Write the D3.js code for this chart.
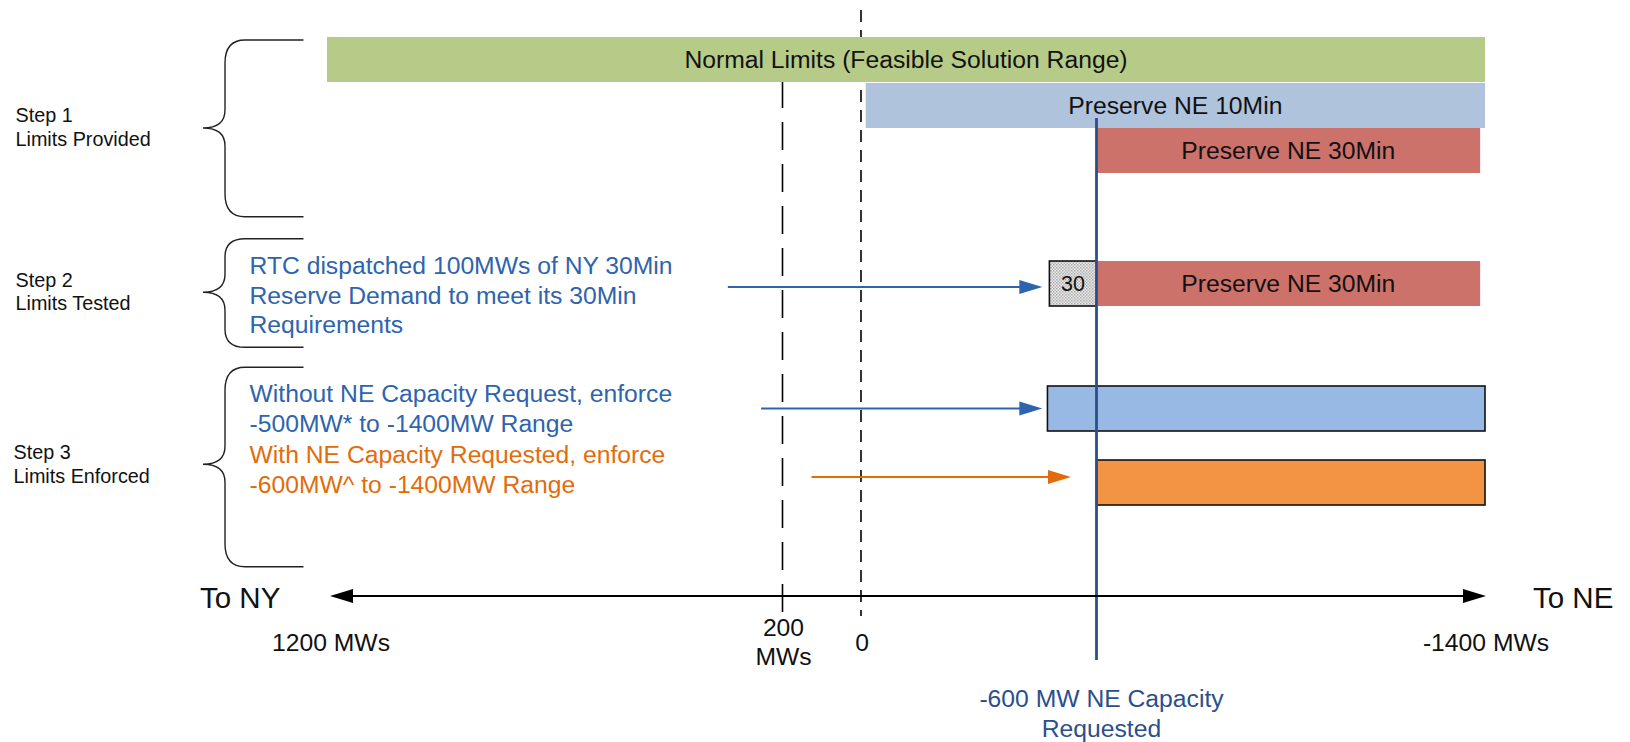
<!DOCTYPE html>
<html>
<head>
<meta charset="utf-8">
<script src="https://cdn.jsdelivr.net/npm/d3@7"></script>
<style>
  body { margin: 0; background: #fff; }
  svg { display: block; font-family: "Liberation Sans", Arial, sans-serif; }
</style>
</head>
<body>
<svg id="chart" width="1630" height="742"></svg>
<script>
// limits diagram: bars are MW ranges on the interface (NY positive, NE negative)

var barNames = ["normal", "ne10", "ne30", "box30", "ne30b", "enf500", "enf600"];
var barRows  = ["s1a", "s1b", "s1c", "s2", "s2", "s3a", "s3b"];
var barFrom  = [1200, -12, -600, -480, -600, -475, -600];
var barTo    = [-1400, -1400, -1390, -600, -1390, -1400, -1400];
var barText  = ["Normal Limits (Feasible Solution Range)", "Preserve NE 10Min", "Preserve NE 30Min", "30", "Preserve NE 30Min", "", ""];

var tickValues = [1200, 200, 0, -1400];
var tickLabels = [["1200 MWs"], ["200", "MWs"], ["0"], ["-1400 MWs"]];

var arrowRows = ["s2", "s3a", "s3b"];
var arrowFrom = [320, 247, 126];
var arrowTo   = [-462, -462, -535];

var stepTitles = [["Step 1", "Limits Provided"], ["Step 2", "Limits Tested"], ["Step 3", "Limits Enforced"]];
var noteLines = ["RTC dispatched 100MWs of NY 30Min", "Reserve Demand to meet its 30Min", "Requirements",
                 "Without NE Capacity Request, enforce", "-500MW* to -1400MW Range",
                 "With NE Capacity Requested, enforce", "-600MW^ to -1400MW Range"];
var noteKinds = ["blue", "blue", "blue", "blue", "blue", "orange", "orange"];
var requestValue = -600;
var requestLines = ["-600 MW NE Capacity", "Requested"];

// layout
var svg = d3.select("#chart");

var x = d3.scaleLinear()
    .domain([1200, 200, -600, -1400])
    .range([327, 782.5, 1096.5, 1485]);

var rowY = d3.scaleOrdinal()
    .domain(["s1a", "s1b", "s1c", "s2", "s3a", "s3b"])
    .range([37, 83, 128, 261, 386, 460]);
var barH = 45;

var fills = {
  normal: "#b7cb88", ne10: "#afc3dd", ne30: "#cd716b", ne30b: "#cd716b",
  box30: "url(#dots)", enf500: "#98b9e3", enf600: "#f39444"
};
var outlined = { box30: true, enf500: true, enf600: true };
var textColor = { blue: "#2e64ad", orange: "#e36c0a" };
var navy = "#2c4f8c";

// dotted fill for the little 30 box
var pat = svg.append("defs").append("pattern")
    .attr("id", "dots").attr("width", 3).attr("height", 3)
    .attr("patternUnits", "userSpaceOnUse");
pat.append("rect").attr("width", 3).attr("height", 3).attr("fill", "#ececec");
pat.append("rect").attr("width", 1.5).attr("height", 1.5).attr("fill", "#a8a8a8");
pat.append("rect").attr("x", 1.5).attr("y", 1.5).attr("width", 1.5).attr("height", 1.5).attr("fill", "#b8b8b8");

// dashed reference lines at 200 and 0
svg.append("line")
    .attr("x1", x(200)).attr("x2", x(200)).attr("y1", 80).attr("y2", 616)
    .attr("stroke", "#000").attr("stroke-width", 1.6).attr("stroke-dasharray", "28,14");
svg.append("line")
    .attr("x1", x(0)).attr("x2", x(0)).attr("y1", 10).attr("y2", 616)
    .attr("stroke", "#000").attr("stroke-width", 1.6).attr("stroke-dasharray", "12,8");

// bars
var bars = barNames.map(function(n, i) {
  return { name: n, row: barRows[i], from: barFrom[i], to: barTo[i], text: barText[i] };
});

var barG = svg.selectAll(".bar")
    .data(bars)
    .enter()
    .append("g")
      .classed("bar", true);

barG.append("rect")
    .attr("x", function(d) { return x(d.from); })
    .attr("y", function(d) { return rowY(d.row); })
    .attr("width", function(d) { return x(d.to) - x(d.from); })
    .attr("height", barH)
    .attr("fill", function(d) { return fills[d.name]; })
    .attr("stroke", function(d) { return outlined[d.name] ? "#111" : "none"; })
    .attr("stroke-width", 1.6);

barG.append("text")
    .attr("x", function(d) { return (x(d.from) + x(d.to)) / 2; })
    .attr("y", function(d) { return rowY(d.row) + barH / 2; })
    .attr("dy", "0.36em")
    .attr("text-anchor", "middle")
    .attr("font-size", function(d) { return d.name == "box30" ? 21.5 : 24.7; })
    .attr("fill", "#111")
    .text(function(d) { return d.text; });

// requested capacity line
svg.append("line")
    .attr("x1", x(requestValue)).attr("x2", x(requestValue))
    .attr("y1", 118).attr("y2", 660)
    .attr("stroke", navy).attr("stroke-width", 2.8);

svg.selectAll(".reqlabel")
    .data(requestLines)
    .enter()
    .append("text")
      .classed("reqlabel", true)
      .attr("x", x(requestValue) + 5)
      .attr("y", function(d, i) { return 706.5 + i * 30; })
      .attr("text-anchor", "middle")
      .attr("font-size", 24.7)
      .attr("fill", navy)
      .text(function(d) { return d; });

// arrows from the notes to the bars
function arrowHead(tipX, y, dir) {
  var len = 23, half = 7;
  return "M" + tipX + "," + y + "L" + (tipX - dir * len) + "," + (y - half) +
         "L" + (tipX - dir * len) + "," + (y + half) + "Z";
}

var arrowDy = [3.5, 0, -5.5];
var arrowColor = [textColor.blue, textColor.blue, textColor.orange];

arrowRows.forEach(function(r, i) {
  var y = rowY(r) + barH / 2 + arrowDy[i];
  svg.append("line")
      .attr("x1", x(arrowFrom[i])).attr("x2", x(arrowTo[i]) - 20)
      .attr("y1", y).attr("y2", y)
      .attr("stroke", arrowColor[i]).attr("stroke-width", 2);
  svg.append("path")
      .attr("d", arrowHead(x(arrowTo[i]), y, 1))
      .attr("fill", arrowColor[i]);
});

// main axis with double arrow
var axisY = 596;
svg.append("line")
    .attr("x1", x(1200) + 10).attr("x2", x(-1400) - 10)
    .attr("y1", axisY).attr("y2", axisY)
    .attr("stroke", "#000").attr("stroke-width", 1.8);
svg.append("path").attr("d", arrowHead(x(1200) + 3, axisY, -1)).attr("fill", "#000");
svg.append("path").attr("d", arrowHead(x(-1400) + 1, axisY, 1)).attr("fill", "#000");

var ticks = svg.selectAll(".ticklabel")
    .data(tickValues)
    .enter()
    .append("text")
      .classed("ticklabel", true)
      .attr("text-anchor", "middle")
      .attr("font-size", 24.7)
      .attr("fill", "#111")
      .attr("y", function(d, i) { return tickLabels[i].length > 1 ? 636 : 650.5; });

ticks.selectAll("tspan")
    .data(function(d, i) { return tickLabels[i].map(function(t) { return { v: d, t: t }; }); })
    .enter()
    .append("tspan")
      .attr("x", function(d) { return x(d.v) + (d.v == 1200 ? 4 : 1); })
      .attr("dy", function(d, j) { return j ? 29 : 0; })
      .text(function(d) { return d.t; });

svg.append("text")
    .attr("x", 200).attr("y", 608)
    .attr("font-size", 29.5).attr("fill", "#111")
    .text("To NY");
svg.append("text")
    .attr("x", 1533).attr("y", 608)
    .attr("font-size", 29.5).attr("fill", "#111")
    .text("To NE");

// braces and step titles
var braceTop = [40, 238.7, 367.3];
var braceTip = [128, 292.3, 464.3];
var braceBot = [216.7, 347.3, 566.7];
var stemX = 225, tipX = 203, endX = 303.5;

function bracePath(top, mid, bot) {
  var rx = 20, ry = Math.min(23, (bot - top) / 6), tx = 18;
  return "M" + endX + "," + top +
    "H" + (stemX + rx) +
    "Q" + stemX + "," + top + " " + stemX + "," + (top + ry) +
    "V" + (mid - tx) +
    "Q" + stemX + "," + mid + " " + tipX + "," + mid +
    "Q" + stemX + "," + mid + " " + stemX + "," + (mid + tx) +
    "V" + (bot - ry) +
    "Q" + stemX + "," + bot + " " + (stemX + rx) + "," + bot +
    "H" + endX;
}

svg.selectAll(".brace")
    .data(braceTop)
    .enter()
    .append("path")
      .classed("brace", true)
      .attr("d", function(d, i) { return bracePath(braceTop[i], braceTip[i], braceBot[i]); })
      .attr("fill", "none")
      .attr("stroke", "#222")
      .attr("stroke-width", 1.4);

var titleY = [122.3, 286.7, 459];
var titleX = [15.5, 15.5, 13.5];
stepTitles.forEach(function(lines, i) {
  svg.append("text")
      .attr("font-size", 19.8).attr("fill", "#111")
      .selectAll("tspan")
      .data(lines)
      .enter()
      .append("tspan")
        .attr("x", titleX[i])
        .attr("y", function(d, j) { return titleY[i] + j * 23.5; })
        .text(function(d) { return d; });
});

// explanatory notes
var noteY = [274, 304, 333.3, 402.3, 432.3, 462.7, 493.3];
svg.selectAll(".note")
    .data(noteLines)
    .enter()
    .append("text")
      .classed("note", true)
      .attr("x", 249.5)
      .attr("y", function(d, i) { return noteY[i]; })
      .attr("font-size", 24.7)
      .attr("fill", function(d, i) { return textColor[noteKinds[i]]; })
      .text(function(d) { return d; });
</script>
</body>
</html>
